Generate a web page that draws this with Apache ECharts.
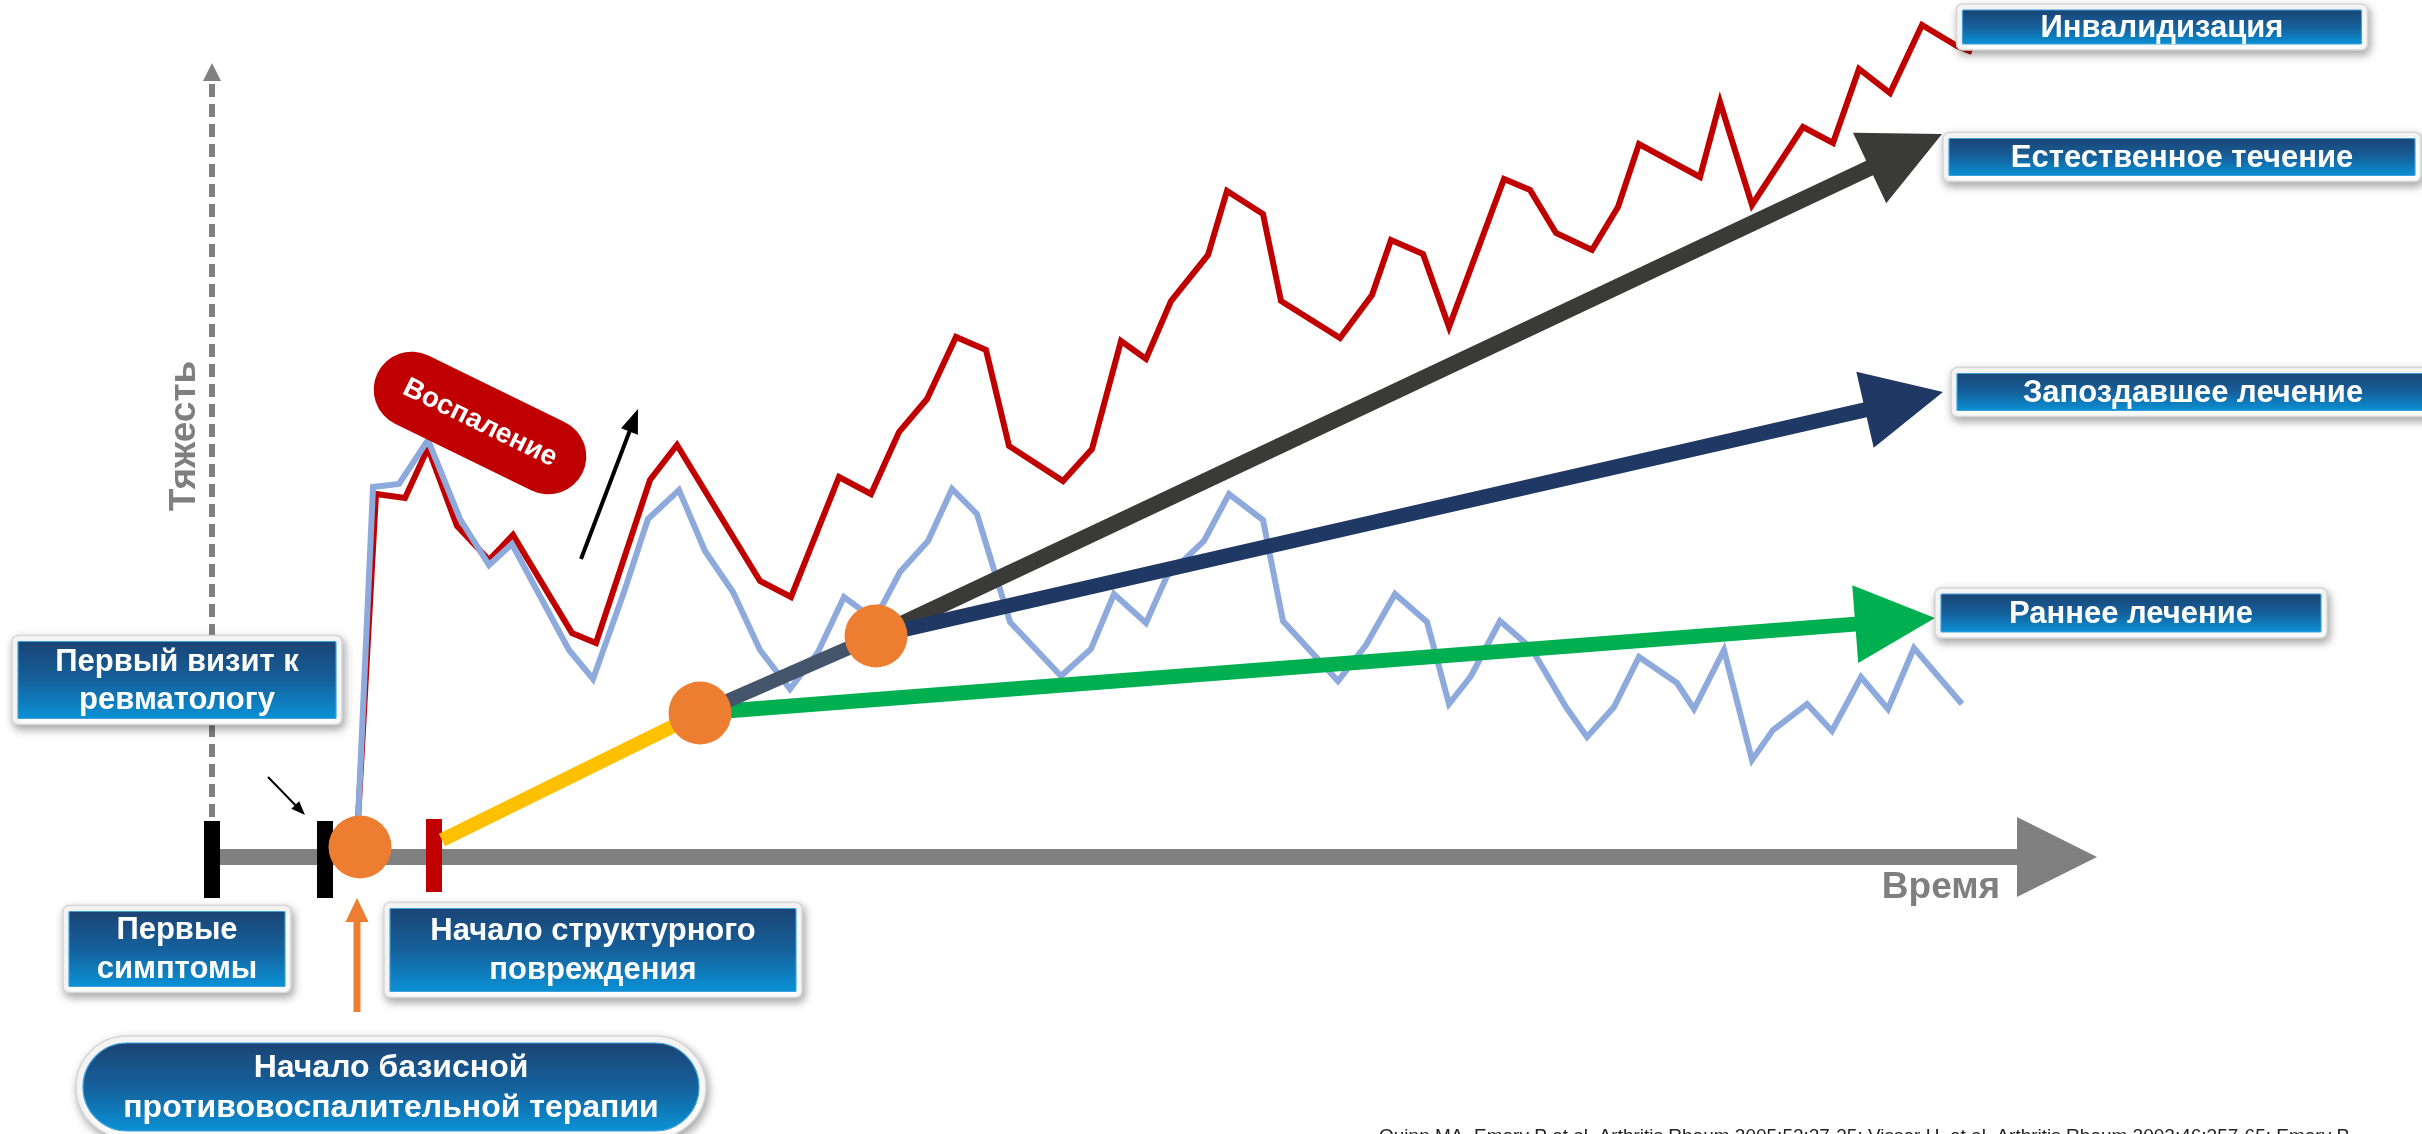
<!DOCTYPE html>
<html><head><meta charset="utf-8">
<script src="https://cdn.jsdelivr.net/npm/echarts@6/dist/echarts.min.js"></script>
<style>html,body{margin:0;padding:0;background:#fff}#c{width:2422px;height:1134px}</style>
</head><body><div id="c"></div><script>
// ---------- DATA (time t, severity s) ----------
const flareCourse = [
[146,37],[164,363],[193,359],[216,409],[245,331],[277,297],[301,322],[360,224],[384,214],[438,377],[465,412],[548,276],[579,260],[627,380],[659,363],[687,425],[715,458],[744,520],[774,507],[797,411],[851,376],[880,408],[909,516],[934,498],[959,556],[996,602],[1015,666],[1051,643],[1069,556],[1128,519],[1160,562],[1179,617],[1211,603],[1237,530],[1292,678],[1318,667],[1344,624],[1380,607],[1406,650],[1427,713],[1488,680],[1508,755],[1540,652],[1591,730],[1621,714],[1647,788],[1678,764],[1710,832],[1745,811],[1760,805]
];
const treatedCourse = [
[146,37],[161,370],[187,373],[216,417],[248,338],[277,292],[300,313],[357,207],[381,178],[412,265],[436,338],[467,367],[493,306],[521,265],[548,207],[578,168],[606,205],[632,260],[655,243],[670,251],[688,285],[716,316],[740,368],[765,343],[798,235],[849,181],[879,208],[902,263],[934,234],[955,281],[992,316],[1017,363],[1051,337],[1071,236],[1126,176],[1154,212],[1183,263],[1215,235],[1237,153],[1259,181],[1288,236],[1319,209],[1354,150],[1375,120],[1402,150],[1427,200],[1465,174],[1482,148],[1512,207],[1540,97],[1561,127],[1595,153],[1620,126],[1649,180],[1676,148],[1702,209],[1750,153]
];
const eventTimes = [0, 113, 148, 222];           // первые симптомы, визит, терапия, повреждение
const milestonePoints = [[148,10],[488,144],[664,221]];
const damageOnset = [[230,17],[488,144]];
const lateStart = [[488,144],[664,221]];
const trendNames = ['Естественное течение','Запоздавшее лечение','Раннее лечение'];
const trendFrom = [[664,221],[664,221],[488,144]];
const trendTo = [[1730,723],[1731,465],[1723,239]];
const timeAxisEnd = 1885;
const severityAxisEnd = 794;
const boxLabels = ['Инвалидизация','Естественное течение','Запоздавшее лечение','Раннее лечение',
  'Первый визит к\nревматологу','Первые\nсимптомы','Начало структурного\nповреждения',
  'Начало базисной\nпротивовоспалительной терапии'];
const boxAnchors = [[1950,830],[1970,700],[1981,465],[1919,244],[-35,177],[-35,-92],[381,-93],[179,-230]];
const citation = 'Quinn MA, Emery P et al. Arthritis Rheum 2005;52:27-35; Visser H, et al. Arthritis Rheum 2002;46:357-65; Emery P';

// ---------- LAYOUT / STYLE ----------
const FONT = '"Liberation Sans", Arial, sans-serif';
const boxLayout = [
  {w:411,h:46,fs:31},{w:478,h:49,fs:31},{w:484,h:49,fs:31},{w:392,h:50,fs:31},
  {w:330,h:89,fs:31,lh:38},{w:228,h:87,fs:31,lh:39},{w:418,h:95,fs:31,lh:39},{w:630,h:102,fs:32,lh:40,pill:true}
];
const trendStyles = [
  {color:'#3a3a38',sw:16,hl:80,hw:78},{color:'#203864',sw:15,hl:80,hw:78},{color:'#00b050',sw:15,hl:80,hw:78}
];
const pointerFrom = [[56,80],[369,298],[145,-155]];
const pointerTo = [[93,42],[426,448],[145,-41]];
const pointerStyles = [{color:'#000',sw:2,hl:14,hw:11},{color:'#000',sw:4,hl:24,hw:18},{color:'#ed7d31',sw:7,hl:24,hw:23}];

function arrowPts(p1,p2,sw,hl,hw){
  const dx=p2[0]-p1[0], dy=p2[1]-p1[1], len=Math.hypot(dx,dy);
  const ux=dx/len, uy=dy/len, nx=-uy, ny=ux;
  const bx=p2[0]-ux*hl, by=p2[1]-uy*hl, hs=sw/2, hh=hw/2;
  return [[p1[0]+nx*hs,p1[1]+ny*hs],[bx+nx*hs,by+ny*hs],[bx+nx*hh,by+ny*hh],[p2[0],p2[1]],
          [bx-nx*hh,by-ny*hh],[bx-nx*hs,by-ny*hs],[p1[0]-nx*hs,p1[1]-ny*hs]];
}
function arrowSeries(from,to,styles,z){
  return {type:'custom',coordinateSystem:'cartesian2d',z,silent:true,
    data: from.map((f,i)=>[f[0],f[1],to[i][0],to[i][1]]),
    encode:{x:[0,2],y:[1,3]},
    renderItem:(params,api)=>{
      const st=styles[params.dataIndex];
      const p1=api.coord([api.value(0),api.value(1)]), p2=api.coord([api.value(2),api.value(3)]);
      return {type:'polygon',shape:{points:arrowPts(p1,p2,st.sw,st.hl,st.hw)},style:{fill:st.color}};
    }};
}
function boxGrad(){
  return new echarts.graphic.LinearGradient(0,0,0,1,[
    {offset:0,color:'#1b4474'},{offset:0.5,color:'#15609b'},{offset:1,color:'#0a92d6'}]);
}

const chart = echarts.init(document.getElementById('c'));
chart.setOption({
  animation:false,
  backgroundColor:'#ffffff',
  grid:{left:0,right:0,top:0,bottom:0},
  xAxis:{type:'value',min:-212,max:2210,show:false},
  yAxis:{type:'value',min:-277,max:857,show:false},
  series:[
    // time axis arrow
    arrowSeries([[0,0]],[[timeAxisEnd,0]],[{color:'#808080',sw:16,hl:80,hw:80}],1),
    // severity dashed axis
    {type:'custom',coordinateSystem:'cartesian2d',z:1,silent:true,data:[[0,0,0,severityAxisEnd]],
     renderItem:(params,api)=>{
       const p1=api.coord([api.value(0),api.value(1)]), p2=api.coord([api.value(2),api.value(3)]);
       return {type:'group',children:[
         {type:'line',shape:{x1:p1[0],y1:p1[1],x2:p2[0],y2:p2[1]+17},style:{stroke:'#808080',lineWidth:6,lineDash:[13,7]}},
         {type:'polygon',shape:{points:[[p2[0],p2[1]],[p2[0]+9,p2[1]+18],[p2[0]-9,p2[1]+18]]},style:{fill:'#808080'}}
       ]};
     }},
    // event bars
    {type:'custom',coordinateSystem:'cartesian2d',z:2,silent:true,
     data:[[eventTimes[0],-41,36],[eventTimes[1],-41,36],[eventTimes[3],-35,38]],
     renderItem:(params,api)=>{
       const a=api.coord([api.value(0),api.value(2)]), b=api.coord([api.value(0),api.value(1)]);
       return {type:'rect',shape:{x:a[0]-8,y:a[1],width:16,height:b[1]-a[1]},
         style:{fill: params.dataIndex===2?'#c00000':'#000000'}};
     }},
    // flare course (red)
    {type:'line',data:flareCourse,z:3,symbol:'none',silent:true,
     lineStyle:{color:'#c00000',width:6,join:'miter',miterLimit:6}},
    // treated course (blue)
    {type:'line',data:treatedCourse,z:4,symbol:'none',silent:true,
     lineStyle:{color:'#8eaadc',width:6,join:'miter',miterLimit:6}},
    // damage onset segments
    {type:'line',data:damageOnset,z:5,symbol:'none',silent:true,lineStyle:{color:'#ffc000',width:14}},
    {type:'line',data:lateStart,z:5,symbol:'none',silent:true,lineStyle:{color:'#44546a',width:14}},
    // trend arrows
    arrowSeries(trendFrom,trendTo,trendStyles,5),
    // pointer arrows
    arrowSeries(pointerFrom,pointerTo,pointerStyles,6),
    // milestones
    {type:'scatter',data:milestonePoints,z:7,symbol:'circle',symbolSize:63,silent:true,
     itemStyle:{color:'#ed7d31',opacity:1}},
    // Воспаление pill
    {type:'custom',coordinateSystem:'cartesian2d',z:8,silent:true,data:[[268,434]],
     renderItem:(params,api)=>{
       const c=api.coord([api.value(0),api.value(1)]);
       return {type:'group',x:c[0],y:c[1],rotation:-26*Math.PI/180,children:[
         {type:'rect',shape:{x:-114,y:-38,width:228,height:76,r:38},style:{fill:'#c00000'}},
         {type:'text',style:{text:'Воспаление',x:0,y:0,align:'center',verticalAlign:'middle',fill:'#fff',font:'bold 28px '+FONT}}
       ]};
     }},
    // axis names
    {type:'custom',coordinateSystem:'cartesian2d',z:8,silent:true,data:[[1729,-31],[-27,421]],
     renderItem:(params,api)=>{
       const c=api.coord([api.value(0),api.value(1)]);
       const i=params.dataIndex;
       return {type:'text',x:c[0],y:c[1],rotation:i===1?Math.PI/2:0,
         style:{text:i===0?'Время':'Тяжесть',x:0,y:0,align:'center',verticalAlign:'middle',fill:'#7f7f7f',font:'bold 37px '+FONT}};
     }},
    // label boxes
    {type:'custom',coordinateSystem:'cartesian2d',z:10,silent:true,data:boxAnchors,
     renderItem:(params,api)=>{
       const i=params.dataIndex, L=boxLayout[i];
       const c=api.coord([api.value(0),api.value(1)]);
       const x=c[0]-L.w/2, y=c[1]-L.h/2, ins=L.pill?7:6;
       return {type:'group',children:[
         {type:'rect',shape:{x,y,width:L.w,height:L.h,r:L.pill?L.h/2:6},
          style:{fill:'#ffffff',stroke:'#d6d6d6',lineWidth:1.5,shadowBlur:9,shadowColor:'rgba(0,0,0,0.35)',shadowOffsetX:2,shadowOffsetY:4}},
         {type:'rect',shape:{x:x+ins,y:y+ins,width:L.w-2*ins,height:L.h-2*ins,r:L.pill?(L.h-2*ins)/2:1},
          style:{fill:boxGrad(),stroke:'#3da0da',lineWidth:1.2}},
         {type:'text',style:{text:boxLabels[i],x:c[0],y:c[1]+1,align:'center',verticalAlign:'middle',fill:'#ffffff',
          font:'bold '+L.fs+'px '+FONT,lineHeight:L.lh||L.fs}}
       ]};
     }},
    // citation
    {type:'custom',coordinateSystem:'cartesian2d',z:10,silent:true,data:[[1167,-270]],
     renderItem:(params,api)=>{
       const c=api.coord([api.value(0),api.value(1)]);
       return {type:'text',style:{text:citation,x:c[0],y:c[1],align:'left',verticalAlign:'top',fill:'#222',font:'19px '+FONT}};
     }}
  ]
});
</script></body></html>
